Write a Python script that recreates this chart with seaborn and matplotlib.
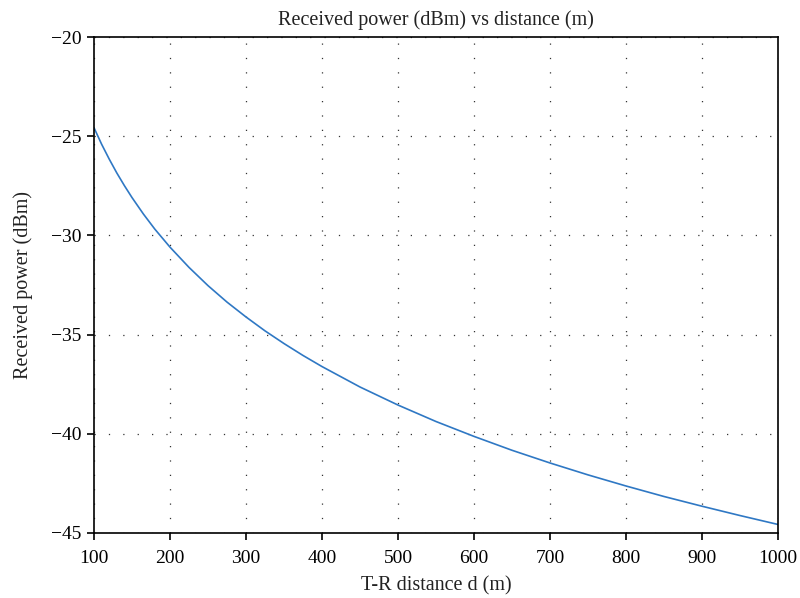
import matplotlib
matplotlib.use("Agg")
import matplotlib.pyplot as plt
import seaborn as sns
import pandas as pd

distance_m = [100, 110, 120, 130, 140, 150, 165, 180, 200, 225, 250, 275, 300,
              325, 350, 375, 400, 450, 500, 550, 600, 650, 700, 750, 800,
              850, 900, 950, 1000]
received_dbm = [-24.57, -25.40, -26.15, -26.85, -27.49, -28.09, -28.92, -29.68,
                -30.59, -31.61, -32.53, -33.36, -34.11, -34.81, -35.45, -36.05,
                -36.61, -37.64, -38.55, -39.38, -40.13, -40.83, -41.47, -42.07,
                -42.63, -43.16, -43.65, -44.12, -44.57]
x_ticks = [100, 200, 300, 400, 500, 600, 700, 800, 900, 1000]
y_ticks = [-45, -40, -35, -30, -25, -20]

sns.set_theme(style="white")
plt.rcParams['font.family'] = ['Liberation Serif', 'DejaVu Serif']
plt.rcParams['axes.unicode_minus'] = True

df = pd.DataFrame({"d": distance_m, "p": received_dbm})

fig = plt.figure(figsize=(8.0, 5.98), dpi=100)
ax = fig.add_axes([0.1175, 0.1087, 0.855, 0.8293])
sns.lineplot(data=df, x="d", y="p", ax=ax, color="#2f78c4", linewidth=1.2)

ax.set_xlim(100, 1000)
ax.set_ylim(-45, -20)
ax.set_xticks(x_ticks)
ax.set_yticks(y_ticks)
ax.set_yticklabels([f"\u2212{abs(v)}" for v in y_ticks])

for s in ax.spines.values():
    s.set_color("black")
    s.set_linewidth(1.2)
    s.set_visible(True)

ax.tick_params(axis="both", direction="out", length=5, width=1.2, colors="black",
               labelsize=14, bottom=True, left=True)
ax.tick_params(axis="x", pad=7)
ax.tick_params(axis="y", pad=4)
ax.grid(True, color="#333333", linestyle=(0, (1, 10.5)), linewidth=0.9)

ax.set_xlabel("T-R distance d (m)", fontsize=14.5, color="#222222", labelpad=7)
ax.set_ylabel("Received power (dBm)", fontsize=14.5, color="#222222", labelpad=13)
ax.set_title("Received power (dBm) vs distance (m)", fontsize=14.5, color="#222222", pad=9)

fig.savefig("out.png", dpi=100)
